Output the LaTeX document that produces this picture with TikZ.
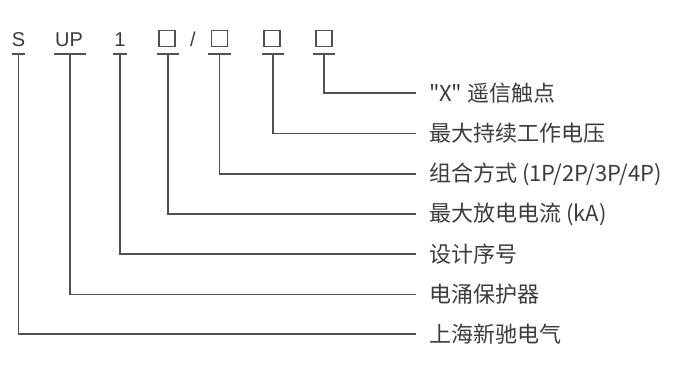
\documentclass[tikz,border=0pt]{standalone}
\usepackage{fontspec}
\setmainfont{Liberation Sans}
\newfontfamily\cjk{Noto Sans CJK SC}
\usetikzlibrary{positioning,calc}
\definecolor{inkgray}{HTML}{3C3C3C}
\definecolor{linegray}{HTML}{505050}
\tikzset{
  code/.style={inner sep=0pt,text=inkgray,font=\fontsize{20}{24}\selectfont},
  slot/.style={draw=linegray,line width=1.2pt,inner sep=0pt,minimum size=16pt},
  mark line/.style={draw=linegray,line width=1.1pt},
  label/.style={inner sep=0pt,anchor=west,text=inkgray,font=\cjk\fontsize{22}{26}\selectfont}
}
\begin{document}
\begin{tikzpicture}[x=1pt,y=-1pt]
\useasboundingbox (0,0) rectangle (690,374);
% code row
\node[code] (s) at (18.5,39.5) {S};
\node[code] (up) at (69,39.5) {UP};
\node[code] (one) at (120,39.5) {1};
\node[slot] (b1) at (167,38.5) {};
\node[code] (slash) at (193,39.5) {/};
\node[slot] (b2) at (219.5,38.5) {};
\node[slot] (b3) at (272,38.5) {};
\node[slot] (b4) at (324,38.5) {};
% underlines
\coordinate (us) at (18.5,54);
\coordinate (uup) at (70,54);
\coordinate (uone) at (120,54);
\coordinate (ub1) at (168,54);
\coordinate (ub2) at (219.5,54);
\coordinate (ub3) at (273,54);
\coordinate (ub4) at (324,54);
\draw[mark line] (12,54) -- (25,54);
\draw[mark line] (54,54) -- (86,54);
\draw[mark line] (113,54) -- (127,54);
\draw[mark line] (157,54) -- (179,54);
\draw[mark line] (208,54) -- (231,54);
\draw[mark line] (262,54) -- (284,54);
\draw[mark line] (313,54) -- (335,54);
% labels
\node[label] (l1) at (429,93) {"X" 遥信触点};
\node[label] (l2) at (429,133.5) {最大持续工作电压};
\node[label] (l3) at (429,174) {组合方式 (1P/2P/3P/4P)};
\node[label] (l4) at (429,214) {最大放电电流 (kA)};
\node[label] (l5) at (429,254) {设计序号};
\node[label] (l6) at (429,294.5) {电涌保护器};
\node[label] (l7) at (429,334) {上海新驰电气};
% leaders
\draw[mark line] (ub4) |- ([xshift=-13pt]l1.west);
\draw[mark line] (ub3) |- ([xshift=-13pt]l2.west);
\draw[mark line] (ub2) |- ([xshift=-13pt]l3.west);
\draw[mark line] (ub1) |- ([xshift=-13pt]l4.west);
\draw[mark line] (uone) |- ([xshift=-13pt]l5.west);
\draw[mark line] (uup) |- ([xshift=-13pt]l6.west);
\draw[mark line] (us) |- ([xshift=-13pt]l7.west);
\end{tikzpicture}
\end{document}
